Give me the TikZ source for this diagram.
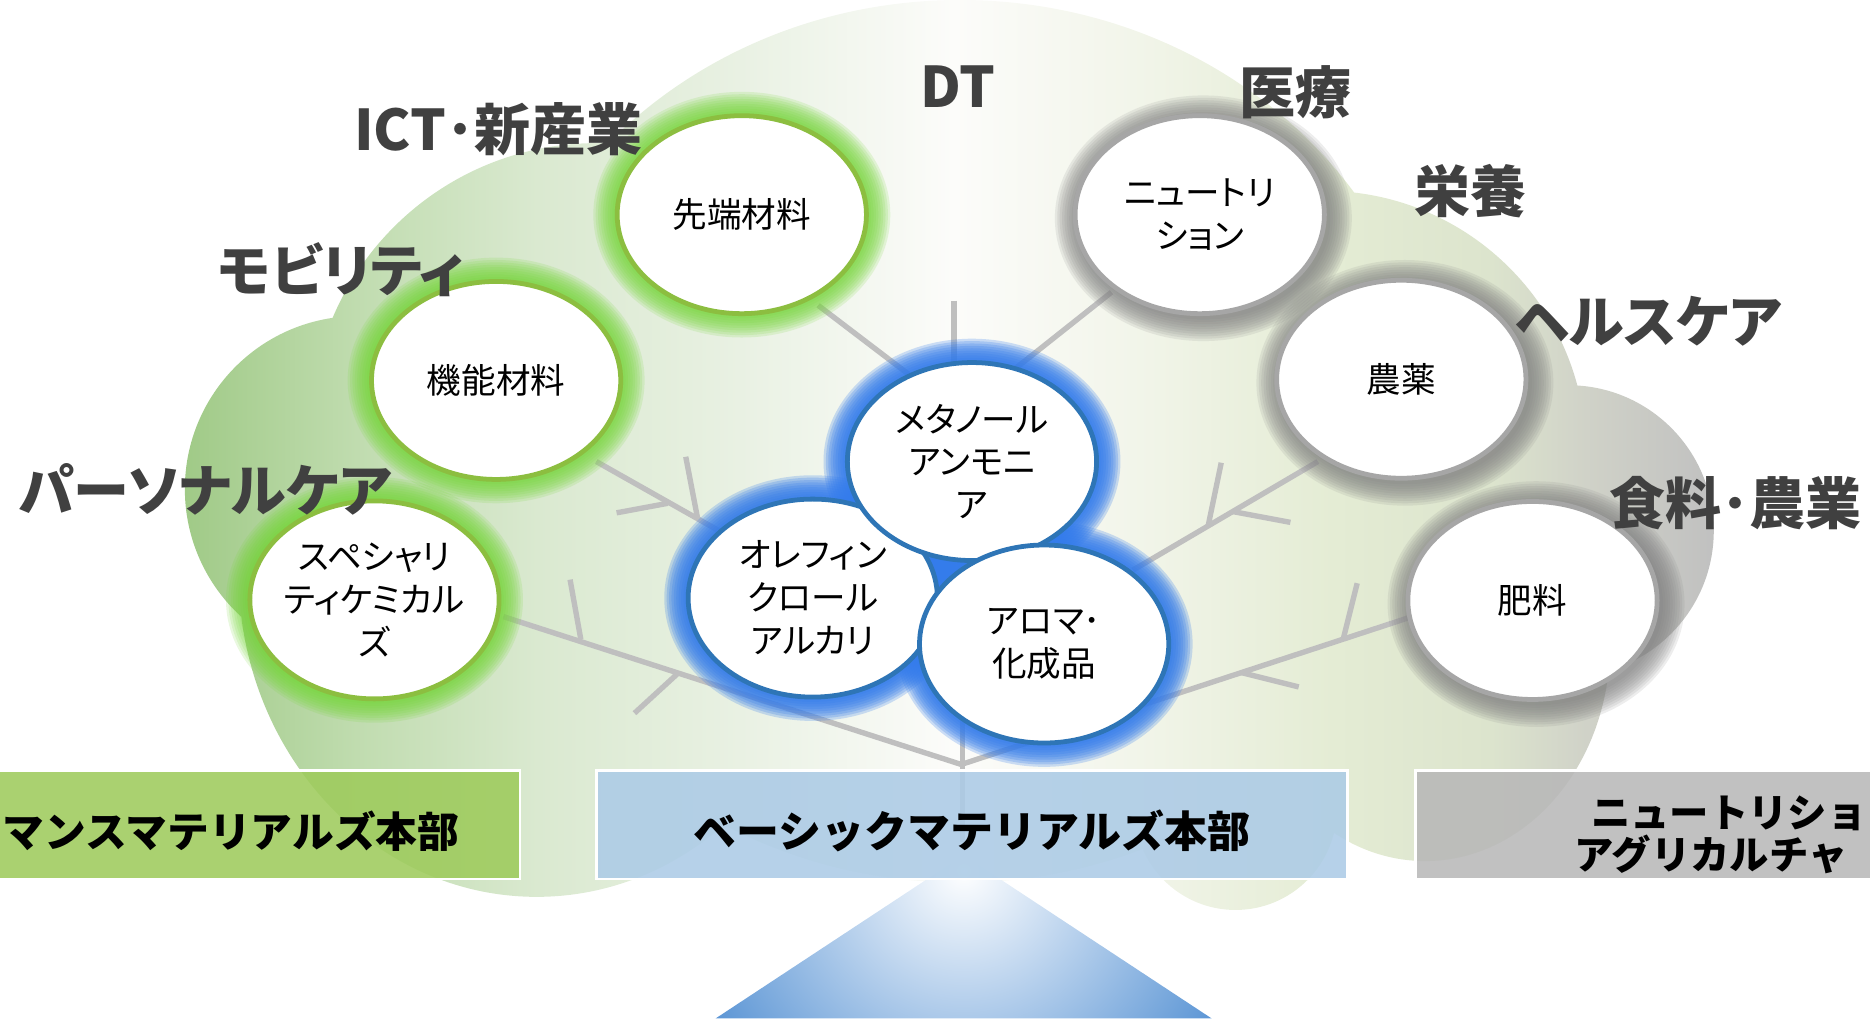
\documentclass[tikz,border=0pt]{standalone}
\usepackage{fontspec}
\setmainfont{Noto Sans CJK JP}
\newfontfamily\jpp{Noto Sans CJK JP}[RawFeature=+palt]
\usetikzlibrary{shapes.geometric}
\definecolor{lblcol}{RGB}{64,64,64}
\definecolor{branchcol}{RGB}{191,191,191}
\definecolor{gglow}{RGB}{118,214,58}
\definecolor{gline}{RGB}{140,190,64}
\definecolor{bglow}{RGB}{52,124,235}
\definecolor{bline}{RGB}{46,117,182}
\definecolor{grglow}{RGB}{130,130,130}
\definecolor{grline}{RGB}{166,166,166}
\definecolor{boxgreen}{RGB}{158,203,92}
\definecolor{boxblue}{RGB}{172,203,230}
\definecolor{boxgray}{RGB}{184,184,184}
\definecolor{trunkblue}{RGB}{80,142,210}
\definecolor{cA}{RGB}{160,202,135}
\definecolor{cB}{RGB}{192,220,175}
\definecolor{cC}{RGB}{218,233,208}
\definecolor{cD}{RGB}{233,241,227}
\definecolor{cE}{RGB}{252,252,250}
\definecolor{cF}{RGB}{242,245,234}
\definecolor{cG}{RGB}{228,236,212}
\definecolor{cH}{RGB}{220,228,205}
\definecolor{cI}{RGB}{208,210,200}
\definecolor{cJ}{RGB}{192,192,192}
\pgfdeclarehorizontalshading{cloudshade}{100bp}{color(0bp)=(cA); color(25bp)=(cA); color(30.6bp)=(cB); color(36.5bp)=(cC); color(43.1bp)=(cD); color(50.1bp)=(cE); color(55.9bp)=(cF); color(62.5bp)=(cG); color(67.6bp)=(cH); color(70.7bp)=(cI); color(75bp)=(cJ); color(100bp)=(cJ)}
\newcommand\halo[3]{\foreach \k in {2,4,...,20}{\fill[#2, opacity=#3] (#1) ellipse [x radius=104.5+\k, y radius=83+\k];}}
\begin{document}
\begin{tikzpicture}[x=1pt,y=-1pt,
  bubble/.style={ellipse, minimum width=209, minimum height=166, inner sep=-20pt, fill=white, line width=4pt, align=center, text=black, font=\jpp\fontsize{29}{36}\selectfont},
  lbl/.style={text=lblcol, inner sep=0pt, font=\jpp\bfseries\fontsize{47}{52}\selectfont},
  boxtxt/.style={text=black, inner sep=0pt, font=\bfseries\fontsize{36}{40}\selectfont},
  boxtxtsmall/.style={text=black, inner sep=0pt, font=\bfseries\fontsize{33}{36}\selectfont},
  branch/.style={draw=branchcol, line width=4.5pt},
  hqbox/.style={draw=white, line width=2pt, fill opacity=0.88}]
\useasboundingbox (0,0) rectangle (1568,854);
% cloud
\begin{scope}
\clip (300,410) ellipse [x radius=145, y radius=145]
      (500,360) ellipse [x radius=240, y radius=240]
      (450,480) ellipse [x radius=250, y radius=272]
      (805,370) ellipse [x radius=400, y radius=370]
      (1110,380) ellipse [x radius=220, y radius=220]
      (1195,540) ellipse [x radius=155, y radius=182]
      (1315,445) ellipse [x radius=122, y radius=122]
      (1036,678) ellipse [x radius=85, y radius=85];
\shade[shading=cloudshade] (155,0) rectangle (1440,770);
\end{scope}
% branch coordinates
\coordinate (root) at (806,641);
\coordinate (lt) at (422,517);
\coordinate (rt) at (1184,517);
\coordinate (la1) at (487,536); \coordinate (la2) at (478,486);
\coordinate (lb1) at (568,565); \coordinate (lb2) at (532,598);
\coordinate (k1) at (500,387); \coordinate (k2) at (640,466);
\coordinate (kc1) at (560,422); \coordinate (kc2) at (517,430);
\coordinate (kd1) at (585,435); \coordinate (kd2) at (575,383);
\coordinate (s1) at (686,256); \coordinate (s2) at (770,320);
\coordinate (v1) at (800,252); \coordinate (v2) at (800,320);
\coordinate (n1) at (932,245); \coordinate (n2) at (840,318);
\coordinate (y1) at (1105,387); \coordinate (y2) at (950,478);
\coordinate (ye1) at (1013,441); \coordinate (ye2) at (1024,388);
\coordinate (yf1) at (1034,429); \coordinate (yf2) at (1082,438);
\coordinate (rg1) at (1126,537); \coordinate (rg2) at (1138,489);
\coordinate (rh1) at (1041,564); \coordinate (rh2) at (1089,576);
\coordinate (tr1) at (807,600); \coordinate (tr2) at (807,706);
\draw[branch] (lt) -- (root) -- (rt);
\draw[branch] (la1) -- (la2);
\draw[branch] (lb1) -- (lb2);
\draw[branch] (k1) -- (k2);
\draw[branch] (kc1) -- (kc2);
\draw[branch] (kd1) -- (kd2);
\draw[branch] (s1) -- (s2);
\draw[branch] (v1) -- (v2);
\draw[branch] (n1) -- (n2);
\draw[branch] (y1) -- (y2);
\draw[branch] (ye1) -- (ye2);
\draw[branch] (yf1) -- (yf2);
\draw[branch] (rg1) -- (rg2);
\draw[branch] (rh1) -- (rh2);
\draw[branch] (tr1) -- (tr2);
% trunk triangle
\begin{scope}
\clip (808,717) -- (1016,854) -- (600,854) -- cycle;
\shade[inner color=white, outer color=trunkblue] (808,730) circle (260);
\end{scope}
% glows
\halo{622,180}{gglow}{0.16}
\halo{416,319}{gglow}{0.16}
\halo{314,503}{gglow}{0.16}
\halo{815,387}{bglow}{0.24}
\halo{681.5,501.5}{bglow}{0.24}
\halo{875.5,540}{bglow}{0.24}
\halo{1009,183}{grglow}{0.14}
\halo{1178,321}{grglow}{0.14}
\halo{1288,506.5}{grglow}{0.14}
% bubbles
\node[bubble, draw=gline] (sentan) at (622,180) {先端材料};
\node[bubble, draw=gline] (kinou) at (416,319) {機能材料};
\node[bubble, draw=gline] (spec) at (314,503) {スペシャリ\\ティケミカル\\ズ};
\node[bubble, draw=bline] (olef) at (681.5,501.5) {オレフィン\\クロール\\アルカリ};
\node[bubble, draw=bline] (metha) at (815,387) {メタノール\\アンモニ\\ア};
\node[bubble, draw=bline] (aroma) at (875.5,540) {アロマ･\\化成品};
\node[bubble, draw=grline] (nutri) at (1006,180) {ニュートリ\\ション};
\node[bubble, draw=grline] (nouyaku) at (1175,318) {農薬};
\node[bubble, draw=grline] (hiryou) at (1285,503.5) {肥料};
% labels
\node[lbl] (lict) at (418,108) {ICT･新産業};
\node[lbl] (ldt) at (803,73) {DT};
\node[lbl] (liryou) at (1086,77) {医療};
\node[lbl] (leiyou) at (1233,160) {栄養};
\node[lbl] (lmob) at (286,226) {モビリティ};
\node[lbl] (lhealth) at (1382,269) {ヘルスケア};
\node[lbl] (lpers) at (172,410) {パーソナルケア};
\node[lbl] (lfood) at (1455,422) {食料･農業};
% division boxes
\path[hqbox, fill=boxgreen] (-5,646) rectangle (436,737);
\path[hqbox, fill=boxblue] (500,646) rectangle (1130,737);
\path[hqbox, fill=boxgray] (1187,646) rectangle (1580,737);
\node[boxtxt, anchor=west, font=\bfseries\fontsize{35}{40}\selectfont] (tpm) at (2,697) {マンスマテリアルズ本部};
\node[boxtxt] (tbm) at (815,697) {ベーシックマテリアルズ本部};
\node[boxtxtsmall, anchor=west] (tna1) at (1334,682) {ニュートリショ};
\node[boxtxtsmall, anchor=west] (tna2) at (1320,716) {アグリカルチャ};
\end{tikzpicture}
\end{document}
